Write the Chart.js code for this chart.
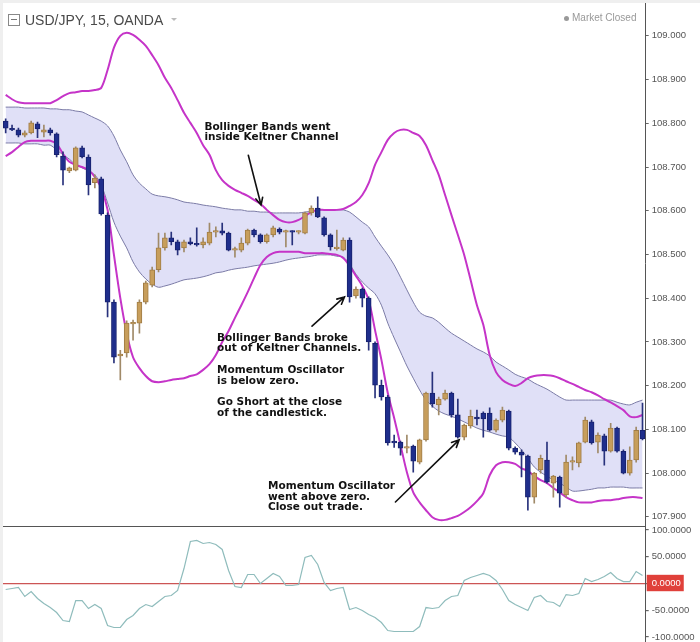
<!DOCTYPE html>
<html>
<head>
<meta charset="utf-8">
<script src="https://cdn.jsdelivr.net/npm/chart.js@4.4.0/dist/chart.umd.min.js"></script>
<style>
    body { margin: 0; background: #fff; width: 700px; height: 642px; overflow: hidden; position: relative; font-family: "Liberation Sans", Arial, sans-serif; }
    canvas { position: absolute; left: 0; }
    #main { top: 0; }
    #osc { top: 527px; }
    .sep { position: absolute; left: 0; top: 526px; width: 646px; height: 1px; background: #555; }
    .frameTop { position: absolute; left: 0; top: 0; width: 700px; height: 3px; background: #efefef; }
    .frameLeft { position: absolute; left: 0; top: 0; width: 3px; height: 642px; background: #efefef; }
    .icon { position: absolute; left: 8px; top: 14px; width: 10px; height: 10px; border: 1px solid #888; }
    .icon:after { content: ""; position: absolute; left: 2px; top: 4px; width: 6px; height: 1px; background: #777; }
    .title { position: absolute; left: 25px; top: 12px; font-size: 14px; line-height: 16px; color: #4a4a4a; }
    .caret { position: absolute; left: 171px; top: 18px; width: 0; height: 0; border-left: 3px solid transparent; border-right: 3px solid transparent; border-top: 3px solid #bbb; }
    .status { position: absolute; left: 572px; top: 12px; font-size: 10px; line-height: 12px; color: #999; }
    .dot { position: absolute; left: 564px; top: 16px; width: 5px; height: 5px; border-radius: 50%; background: #999; }
</style>
</head>
<body>
<canvas id="main" width="700" height="526"></canvas>
<div class="sep"></div>
<canvas id="osc" width="700" height="115"></canvas>
<div class="frameTop"></div>
<div class="frameLeft"></div>
<div class="icon"></div>
<div class="title">USD/JPY, 15, OANDA</div>
<div class="caret"></div>
<div class="dot"></div>
<div class="status">Market Closed</div>

<script>
// 15 minute candles
const opens = [
    108.805, 108.787, 108.785, 108.773, 108.778, 108.799, 108.780, 108.785, 108.776, 108.725,
    108.691, 108.693, 108.744, 108.723, 108.664, 108.673, 108.590, 108.391, 108.268, 108.275,
    108.341, 108.343, 108.391, 108.430, 108.465, 108.515, 108.538, 108.529, 108.515, 108.529,
    108.524, 108.522, 108.526, 108.551, 108.554, 108.549, 108.510, 108.510, 108.526, 108.556,
    108.545, 108.529, 108.545, 108.558, 108.551, 108.552, 108.551, 108.549, 108.595, 108.606,
    108.584, 108.545, 108.513, 108.510, 108.533, 108.405, 108.421, 108.400, 108.297, 108.201,
    108.174, 108.073, 108.071, 108.057, 108.062, 108.025, 108.076, 108.183, 108.156, 108.169,
    108.183, 108.133, 108.082, 108.108, 108.128, 108.137, 108.137, 108.098, 108.121, 108.142,
    108.057, 108.048, 108.039, 107.945, 108.007, 108.030, 107.977, 107.991, 107.950, 108.025,
    108.023, 108.071, 108.117, 108.071, 108.085, 108.050, 108.103, 108.050, 108.000, 108.030,
    108.098
];
const highs = [
    108.810, 108.796, 108.789, 108.783, 108.805, 108.803, 108.796, 108.789, 108.778, 108.735,
    108.700, 108.746, 108.748, 108.728, 108.682, 108.677, 108.595, 108.396, 108.281, 108.348,
    108.350, 108.396, 108.439, 108.471, 108.549, 108.549, 108.551, 108.533, 108.533, 108.538,
    108.561, 108.538, 108.572, 108.563, 108.572, 108.551, 108.517, 108.538, 108.558, 108.558,
    108.547, 108.547, 108.565, 108.561, 108.556, 108.554, 108.554, 108.597, 108.611, 108.632,
    108.586, 108.547, 108.556, 108.538, 108.538, 108.426, 108.423, 108.403, 108.300, 108.213,
    108.178, 108.087, 108.073, 108.087, 108.064, 108.078, 108.185, 108.231, 108.174, 108.190,
    108.185, 108.169, 108.112, 108.144, 108.144, 108.140, 108.149, 108.124, 108.151, 108.144,
    108.060, 108.053, 108.041, 108.002, 108.041, 108.071, 107.995, 107.993, 108.041, 108.037,
    108.071, 108.128, 108.121, 108.092, 108.089, 108.114, 108.105, 108.053, 108.060, 108.105,
    108.160
];
const lows = [
    108.778, 108.783, 108.769, 108.769, 108.776, 108.767, 108.769, 108.773, 108.723, 108.659,
    108.687, 108.691, 108.721, 108.636, 108.652, 108.590, 108.357, 108.252, 108.213, 108.265,
    108.304, 108.320, 108.387, 108.426, 108.460, 108.510, 108.522, 108.499, 108.506, 108.522,
    108.519, 108.515, 108.522, 108.540, 108.545, 108.508, 108.494, 108.506, 108.522, 108.540,
    108.526, 108.526, 108.540, 108.547, 108.517, 108.522, 108.547, 108.547, 108.590, 108.584,
    108.542, 108.510, 108.510, 108.508, 108.391, 108.400, 108.380, 108.281, 108.172, 108.167,
    108.064, 108.059, 108.041, 108.046, 108.002, 108.021, 108.073, 108.151, 108.133, 108.167,
    108.128, 108.080, 108.076, 108.103, 108.110, 108.082, 108.096, 108.094, 108.117, 108.053,
    108.043, 107.991, 107.915, 107.931, 108.000, 107.977, 107.945, 107.922, 107.945, 108.007,
    108.014, 108.069, 108.066, 108.046, 108.018, 108.048, 108.048, 107.998, 107.995, 108.025,
    108.076
];
const closes = [
    108.789, 108.785, 108.773, 108.778, 108.801, 108.787, 108.785, 108.778, 108.728, 108.693,
    108.698, 108.744, 108.723, 108.659, 108.675, 108.593, 108.391, 108.265, 108.272, 108.343,
    108.345, 108.391, 108.435, 108.465, 108.515, 108.538, 108.529, 108.510, 108.529, 108.524,
    108.522, 108.529, 108.551, 108.553, 108.549, 108.510, 108.512, 108.526, 108.556, 108.545,
    108.529, 108.545, 108.561, 108.551, 108.552, 108.551, 108.552, 108.595, 108.606, 108.586,
    108.545, 108.517, 108.517, 108.533, 108.403, 108.421, 108.400, 108.300, 108.201, 108.174,
    108.069, 108.069, 108.057, 108.060, 108.027, 108.076, 108.183, 108.158, 108.169, 108.183,
    108.133, 108.082, 108.110, 108.130, 108.124, 108.124, 108.098, 108.121, 108.144, 108.057,
    108.048, 108.041, 107.945, 108.000, 108.034, 107.979, 107.993, 107.954, 108.025, 108.027,
    108.069, 108.121, 108.069, 108.087, 108.050, 108.103, 108.050, 108.000, 108.030, 108.098,
    108.078
];

// Bollinger Bands
const bbUpper = [
    108.865, 108.855, 108.848, 108.846, 108.846, 108.846, 108.846, 108.846, 108.853, 108.862,
    108.869, 108.871, 108.874, 108.874, 108.876, 108.881, 108.922, 108.973, 109.000, 109.007,
    109.002, 108.991, 108.977, 108.956, 108.933, 108.904, 108.881, 108.853, 108.824, 108.801,
    108.778, 108.750, 108.728, 108.693, 108.670, 108.657, 108.648, 108.641, 108.634, 108.625,
    108.616, 108.602, 108.590, 108.579, 108.574, 108.574, 108.579, 108.588, 108.597, 108.602,
    108.602, 108.602, 108.602, 108.604, 108.611, 108.620, 108.636, 108.663, 108.705, 108.734,
    108.762, 108.778, 108.785, 108.785, 108.778, 108.771, 108.750, 108.716, 108.682, 108.636,
    108.590, 108.545, 108.499, 108.442, 108.384, 108.339, 108.270, 108.231, 108.213, 108.204,
    108.199, 108.206, 108.217, 108.222, 108.224, 108.224, 108.222, 108.217, 108.210, 108.204,
    108.197, 108.190, 108.185, 108.178, 108.169, 108.162, 108.153, 108.144, 108.130, 108.128,
    108.133
];
const bbLower = [
    108.725, 108.734, 108.746, 108.757, 108.760, 108.760, 108.760, 108.760, 108.753, 108.730,
    108.712, 108.705, 108.700, 108.693, 108.677, 108.652, 108.602, 108.499, 108.400, 108.320,
    108.265, 108.240, 108.222, 108.210, 108.208, 108.210, 108.213, 108.215, 108.217, 108.222,
    108.226, 108.236, 108.249, 108.270, 108.300, 108.325, 108.355, 108.384, 108.414, 108.446,
    108.476, 108.494, 108.503, 108.506, 108.506, 108.506, 108.506, 108.503, 108.503, 108.503,
    108.503, 108.501, 108.499, 108.492, 108.474, 108.451, 108.428, 108.396, 108.327, 108.259,
    108.183, 108.126, 108.064, 108.002, 107.956, 107.933, 107.915, 107.899, 107.893, 107.893,
    107.897, 107.902, 107.911, 107.922, 107.936, 107.954, 107.995, 108.018, 108.025, 108.025,
    108.021, 108.011, 108.005, 107.993, 107.984, 107.977, 107.966, 107.956, 107.945, 107.938,
    107.933, 107.933, 107.933, 107.936, 107.938, 107.938, 107.940, 107.943, 107.945, 107.945,
    107.943
];

// Keltner Channel
const kcUpper = [
    108.837, 108.837, 108.837, 108.835, 108.835, 108.835, 108.835, 108.833, 108.833, 108.831,
    108.831, 108.828, 108.826, 108.819, 108.812, 108.805, 108.794, 108.771, 108.739, 108.712,
    108.682, 108.663, 108.650, 108.638, 108.634, 108.632, 108.629, 108.625, 108.620, 108.618,
    108.616, 108.613, 108.611, 108.609, 108.606, 108.604, 108.602, 108.602, 108.599, 108.599,
    108.597, 108.597, 108.595, 108.595, 108.595, 108.595, 108.595, 108.597, 108.599, 108.602,
    108.602, 108.602, 108.602, 108.602, 108.597, 108.586, 108.574, 108.563, 108.540, 108.519,
    108.499, 108.476, 108.448, 108.419, 108.391, 108.368, 108.359, 108.355, 108.345, 108.332,
    108.320, 108.311, 108.302, 108.293, 108.284, 108.277, 108.268, 108.254, 108.245, 108.236,
    108.226, 108.220, 108.215, 108.206, 108.199, 108.192, 108.183, 108.174, 108.167, 108.167,
    108.167, 108.167, 108.167, 108.167, 108.167, 108.167, 108.162, 108.158, 108.156, 108.162,
    108.167
];
const kcLower = [
    108.755, 108.755, 108.755, 108.753, 108.753, 108.753, 108.750, 108.750, 108.739, 108.728,
    108.718, 108.705, 108.698, 108.691, 108.682, 108.659, 108.618, 108.574, 108.542, 108.515,
    108.483, 108.460, 108.444, 108.432, 108.425, 108.428, 108.432, 108.437, 108.442, 108.444,
    108.446, 108.449, 108.453, 108.458, 108.460, 108.464, 108.467, 108.469, 108.471, 108.474,
    108.476, 108.478, 108.480, 108.483, 108.487, 108.490, 108.492, 108.494, 108.496, 108.499,
    108.499, 108.499, 108.496, 108.494, 108.478, 108.455, 108.437, 108.423, 108.410, 108.384,
    108.343, 108.309, 108.277, 108.245, 108.217, 108.190, 108.167, 108.153, 108.142, 108.135,
    108.130, 108.124, 108.117, 108.110, 108.103, 108.098, 108.094, 108.089, 108.085, 108.082,
    108.069, 108.053, 108.034, 108.014, 108.002, 107.993, 107.984, 107.977, 107.968, 107.959,
    107.959, 107.961, 107.963, 107.966, 107.966, 107.968, 107.968, 107.968, 107.966, 107.966,
    107.966
];

// Momentum oscillator
const momentum = [
    -11.2, -9.3, -7.5, -24.3, -15.0, -28.0, -37.4, -44.9, -54.2, -69.2,
    -71.0, -31.8, -31.8, -46.7, -39.3, -46.7, -78.5, -82.2, -82.2, -67.3,
    -59.8, -46.7, -39.3, -43.0, -33.6, -24.3, -22.4, -13.1, 28.0, 78.5,
    80.4, 74.8, 76.6, 72.9, 63.6, 24.3, -5.6, -7.5, 16.8, 16.8,
    0.0, 9.3, 18.7, 13.1, -3.7, -3.7, -1.9, 48.6, 52.3, 35.5,
    1.9, -13.1, -9.3, -7.5, -48.6, -44.9, -50.5, -57.9, -63.6, -72.9,
    -87.9, -89.7, -89.7, -89.7, -89.7, -80.4, -44.9, -46.7, -44.9, -31.8,
    -24.3, -22.4, 5.6, 11.2, 15.0, 18.7, 15.0, 5.6, -11.2, -31.8,
    -39.3, -44.9, -50.5, -26.2, -22.4, -33.6, -35.5, -43.0, -20.6, -22.4,
    -18.7, 9.3, 3.7, 7.5, 13.1, 20.6, 9.3, 3.7, 3.7, 22.4,
    15.0
];

const priceTicks = [107.9, 108.0, 108.1, 108.2, 108.3, 108.4, 108.5, 108.6, 108.7, 108.8, 108.9, 109.0];
const momentumTicks = [100, 50, 0, -50, -100];

// notes and arrows, placed by candle index and price
const notes = [
    { idx: 31.2, price: 108.792, lines: ["Bollinger Bands went", "inside Keltner Channel"] },
    { idx: 33.2, price: 108.309, lines: ["Bollinger Bands broke", "out of Keltner Channels.", "", "Momentum Oscillator", "is below zero.", "", "Go Short at the close", "of the candlestick."] },
    { idx: 41.2, price: 107.970, lines: ["Momentum Oscillator", "went above zero.", "Close out trade."] }
];
const arrows = [
    { fromIdx: 38.1, fromPrice: 108.727, toIdx: 40.1, toPrice: 108.613 },
    { fromIdx: 48.1, fromPrice: 108.336, toIdx: 53.2, toPrice: 108.403 },
    { fromIdx: 61.2, fromPrice: 107.934, toIdx: 71.2, toPrice: 108.076 }
];

const labels = opens.map((_, i) => i);
const isUp = opens.map((o, i) => closes[i] >= o);
const wicks = lows.map((l, i) => [l, highs[i]]);
const bodies = opens.map((o, i) => [Math.min(o, closes[i]), Math.max(o, closes[i])]);

const AXIS_W = 54.3;
function fixAxis(scale) {
    scale.width = AXIS_W;
    scale.paddingTop = 0;
    scale.paddingBottom = 0;
}

const notesPlugin = {
    id: "notes",
    afterDatasetsDraw(chart) {
        const ctx = chart.ctx;
        const x = chart.scales.x, y = chart.scales.y;
        ctx.save();
        ctx.fillStyle = "#111";
        ctx.font = 'bold 10.5px "DejaVu Sans", Verdana, sans-serif';
        ctx.textBaseline = "middle";
        notes.forEach(n => {
            const px = x.getPixelForValue(n.idx);
            const py = y.getPixelForValue(n.price);
            n.lines.forEach((t, k) => ctx.fillText(t, px, py + k * 10.7));
        });
        ctx.strokeStyle = "#111";
        ctx.lineWidth = 1.6;
        ctx.lineCap = "round";
        arrows.forEach(a => {
            const x1 = x.getPixelForValue(a.fromIdx), y1 = y.getPixelForValue(a.fromPrice);
            const x2 = x.getPixelForValue(a.toIdx), y2 = y.getPixelForValue(a.toPrice);
            const ang = Math.atan2(y2 - y1, x2 - x1);
            ctx.beginPath();
            ctx.moveTo(x1, y1);
            ctx.lineTo(x2, y2);
            ctx.moveTo(x2 - 8 * Math.cos(ang - 0.45), y2 - 8 * Math.sin(ang - 0.45));
            ctx.lineTo(x2, y2);
            ctx.lineTo(x2 - 8 * Math.cos(ang + 0.45), y2 - 8 * Math.sin(ang + 0.45));
            ctx.stroke();
        });
        ctx.restore();
    }
};

new Chart(document.getElementById("main"), {
    type: "bar",
    data: {
        labels: labels,
        datasets: [
            {
                type: "line", data: kcUpper, borderColor: "#7b7ba6", borderWidth: 1,
                backgroundColor: "#e0e0f7", fill: "+1", pointRadius: 0, tension: 0.3, order: 6
            },
            {
                type: "line", data: kcLower, borderColor: "#7b7ba6", borderWidth: 1,
                fill: false, pointRadius: 0, tension: 0.3, order: 5
            },
            {
                type: "line", data: bbUpper, borderColor: "#c534c8", borderWidth: 2,
                fill: false, pointRadius: 0, tension: 0.3, order: 4
            },
            {
                type: "line", data: bbLower, borderColor: "#c534c8", borderWidth: 2,
                fill: false, pointRadius: 0, tension: 0.3, order: 3
            },
            {
                data: wicks, grouped: false, barThickness: 1, borderWidth: 0,
                backgroundColor: isUp.map(u => u ? "#a08a68" : "#28327c"), order: 2
            },
            {
                data: bodies, grouped: false, barThickness: 5, minBarLength: 1.5,
                borderWidth: 1, borderSkipped: false,
                backgroundColor: isUp.map(u => u ? "#c79e5c" : "#1f2e8c"),
                borderColor: isUp.map(u => u ? "#a07c44" : "#18226e"), order: 1
            }
        ]
    },
    options: {
        responsive: false,
        animation: false,
        layout: { padding: { left: 2.5, top: 0, right: 0, bottom: 0 } },
        plugins: { legend: { display: false }, tooltip: { enabled: false } },
        scales: {
            x: { type: "category", display: false, offset: true },
            y: {
                position: "right",
                min: 107.879,
                max: 109.082,
                afterBuildTicks: scale => { scale.ticks = priceTicks.map(v => ({ value: v })); },
                afterFit: fixAxis,
                grid: { drawOnChartArea: false, tickLength: 3, tickColor: "#666" },
                border: { display: true, color: "#555", width: 1 },
                ticks: {
                    padding: 3,
                    color: "#555",
                    font: { family: '"Liberation Sans", Arial, sans-serif', size: 9.5 },
                    callback: v => v.toFixed(3)
                }
            }
        }
    },
    plugins: [notesPlugin]
});

new Chart(document.getElementById("osc"), {
    type: "line",
    data: {
        labels: labels,
        datasets: [{
            data: momentum, borderColor: "#8fbcbc", borderWidth: 1.2,
            pointRadius: 0, tension: 0, fill: false
        }]
    },
    options: {
        responsive: false,
        animation: false,
        layout: { padding: { left: 2.5, top: 0, right: 0, bottom: 0 } },
        plugins: { legend: { display: false }, tooltip: { enabled: false } },
        scales: {
            x: { type: "category", display: false, offset: true },
            y: {
                position: "right",
                min: -109.3,
                max: 105.6,
                afterBuildTicks: scale => { scale.ticks = momentumTicks.map(v => ({ value: v })); },
                afterFit: fixAxis,
                grid: {
                    color: c => (c.tick && c.tick.value === 0) ? "#cc5555" : "rgba(0,0,0,0)",
                    lineWidth: 1.2,
                    tickLength: 3,
                    tickColor: "#666"
                },
                border: { display: true, color: "#555", width: 1 },
                ticks: {
                    padding: 3,
                    color: c => c.tick.value === 0 ? "#fff" : "#555",
                    showLabelBackdrop: c => c.tick.value === 0,
                    backdropColor: "#e0403a",
                    backdropPadding: { left: 5, right: 3, top: 3, bottom: 2 },
                    font: { family: '"Liberation Sans", Arial, sans-serif', size: 9.5 },
                    callback: v => v.toFixed(4)
                }
            }
        }
    }
});
</script>
</body>
</html>
